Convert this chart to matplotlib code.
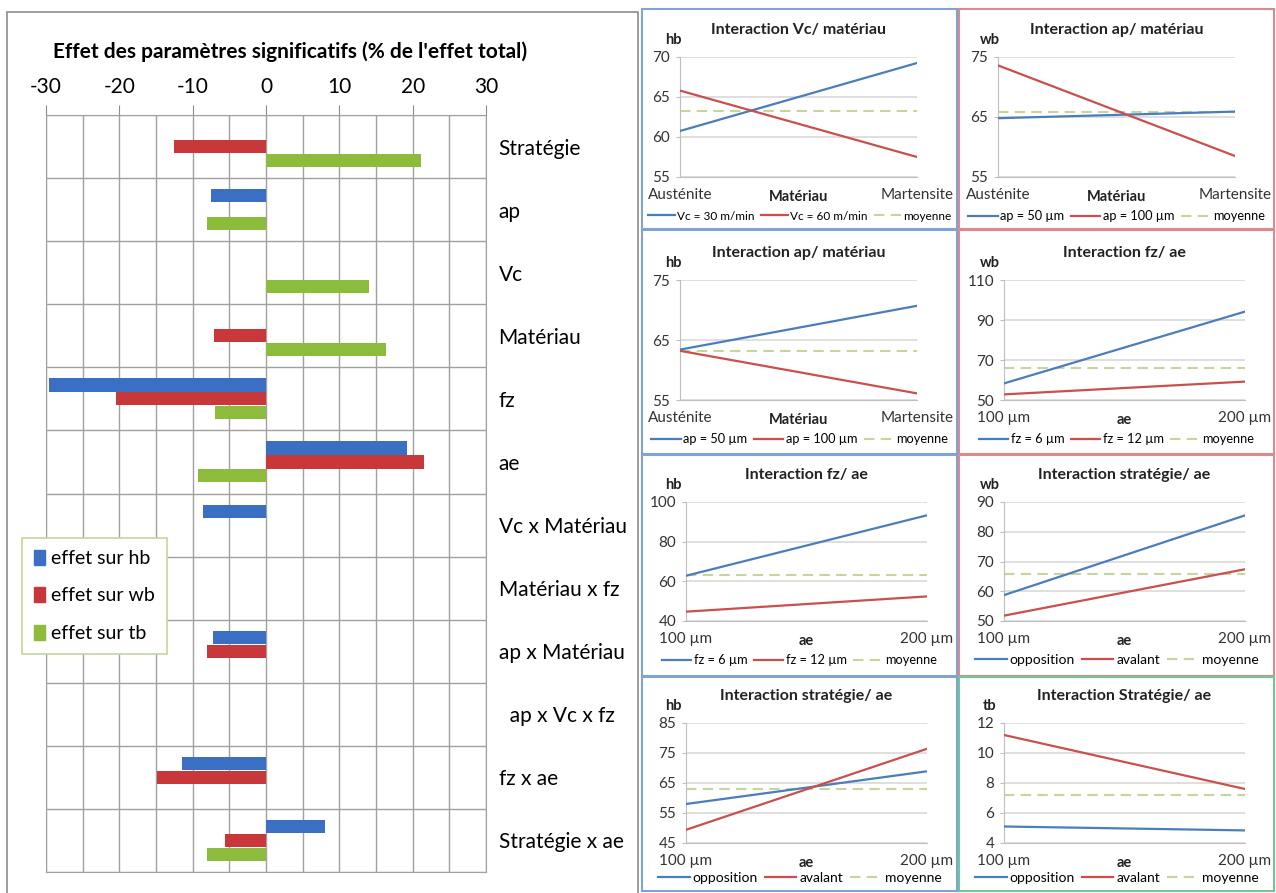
import matplotlib
matplotlib.use('Agg')
import matplotlib.pyplot as plt
from matplotlib.patches import Rectangle, Patch
import numpy as np

plt.rcParams['font.family'] = ['Lato', 'DejaVu Sans']
plt.rcParams['axes.unicode_minus'] = False

W, H = 1276, 893

# ---- bar chart (left) ----
params = ['Stratégie', 'ap', 'Vc', 'Matériau', 'fz', 'ae', 'Vc x Matériau',
          'Matériau x fz', 'ap x Matériau', '  ap x Vc x fz', 'fz x ae', 'Stratégie x ae']
effet_hb = [0, -7.5, 0, 0, -29.6, 19.2, -8.6, 0, -7.2, 0, -11.4, 8.1]
effet_wb = [-12.6, 0, 0, -7.1, -20.5, 21.6, 0, 0, -8.1, 0, -14.9, -5.6]
effet_tb = [21.2, -8.1, 14.1, 16.4, -7.0, -9.3, 0, 0, 0, 0, 0, -8.1]
x_ticks = [-30, -20, -10, 0, 10, 20, 30]
bar_labels = ['effet sur hb', 'effet sur wb', 'effet sur tb']

# ---- interaction panels (right) ----
titles = ['Interaction Vc/ matériau', 'Interaction ap/ matériau',
          'Interaction ap/ matériau', 'Interaction fz/ ae',
          'Interaction fz/ ae', 'Interaction stratégie/ ae',
          'Interaction stratégie/ ae', 'Interaction Stratégie/ ae']
responses = ['hb', 'wb', 'hb', 'wb', 'hb', 'wb', 'hb', 'tb']
factors = ['Matériau', 'Matériau', 'Matériau', 'ae', 'ae', 'ae', 'ae', 'ae']
levels_mat = ['Austénite', 'Martensite']
levels_ae = ['100 µm', '200 µm']
names_blue = ['Vc = 30 m/min', 'ap = 50 µm', 'ap = 50 µm', 'fz = 6 µm',
              'fz = 6 µm', 'opposition', 'opposition', 'opposition']
names_red = ['Vc = 60 m/min', 'ap = 100 µm', 'ap = 100 µm', 'fz = 12 µm',
             'fz = 12 µm', 'avalant', 'avalant', 'avalant']
blue_vals = [[60.75, 69.25], [64.8, 65.9], [63.4, 70.7], [58.3, 94.2],
             [62.8, 93.3], [58.7, 85.5], [58.0, 68.9], [5.1, 4.84]]
red_vals = [[65.8, 57.5], [73.6, 58.5], [63.2, 56.1], [52.8, 59.2],
            [44.7, 52.4], [51.8, 67.4], [49.4, 76.4], [11.2, 7.6]]
moyenne = [63.3, 65.8, 63.2, 66.2, 63.2, 65.8, 63.1, 7.2]
y_ticks = [[55, 60, 65, 70], [55, 65, 75], [55, 65, 75], [50, 70, 90, 110],
           [40, 60, 80, 100], [50, 60, 70, 80, 90], [45, 55, 65, 75, 85],
           [4, 6, 8, 10, 12]]

c_blue, c_red, c_green = '#3a6fc4', '#c8383a', '#8dbb3c'
l_blue, l_red, l_mean = '#4a7ebb', '#c9504d', '#c3d69b'

fig = plt.figure(figsize=(W / 100, H / 100), dpi=100)


def px_rect(x0, y0, x1, y1):
    return [x0 / W, 1 - y1 / H, (x1 - x0) / W, (y1 - y0) / H]


def frame(x0, y0, x1, y1, color, lw=1.5):
    fig.add_artist(Rectangle((x0 / W, 1 - y1 / H), (x1 - x0) / W, (y1 - y0) / H,
                             transform=fig.transFigure, fill=False,
                             ec=color, lw=lw))


# left chart
frame(7, 12, 638, 895, '#8c8c8c', 1.2)
ax = fig.add_axes(px_rect(46, 115, 486, 872))
y = np.arange(len(params))
ax.barh(y - 0.22, effet_hb, height=0.21, color=c_blue, label=bar_labels[0], zorder=3)
ax.barh(y, effet_wb, height=0.21, color=c_red, label=bar_labels[1], zorder=3)
ax.barh(y + 0.22, effet_tb, height=0.21, color=c_green, label=bar_labels[2], zorder=3)
ax.set_xlim(-30, 30)
ax.set_ylim(len(params) - 0.5, -0.5)
ax.xaxis.tick_top()
ax.set_xticks(x_ticks)
ax.set_xticklabels([str(v) for v in x_ticks])
ax.set_xticks(np.arange(-30, 31, 5), minor=True)
ax.tick_params(axis='x', which='major', length=7, color='#8c8c8c', pad=6,
               labelsize=15)
ax.tick_params(axis='x', which='minor', length=0)
ax.yaxis.tick_right()
ax.set_yticks(y)
ax.set_yticklabels(params)
ax.set_yticks(np.arange(-0.5, len(params), 1), minor=True)
ax.tick_params(axis='y', which='major', length=0, pad=9, labelsize=15)
ax.tick_params(axis='y', which='minor', length=0)
ax.grid(which='both', axis='x', color='#a0a0a0', lw=1)
ax.grid(which='minor', axis='y', color='#a0a0a0', lw=1)
for s in ax.spines.values():
    s.set_color('#a0a0a0')
fig.text(290 / W, 1 - 52 / H, "Effet des paramètres significatifs (% de l'effet total)",
         ha='center', va='center', fontsize=15, fontweight='bold')
handles = [Patch(color=c) for c in (c_blue, c_red, c_green)]
leg = fig.legend(handles, bar_labels, loc='upper left',
                 bbox_to_anchor=(22 / W, 1 - 538 / H), fontsize=14,
                 fancybox=False, framealpha=1, edgecolor='#c3d69b',
                 handlelength=0.6, handleheight=0.8, handletextpad=0.3,
                 labelspacing=1.05, borderpad=0.6, borderaxespad=0)
leg.get_frame().set_linewidth(1.2)

# right panels
col_x = [(642, 957), (959, 1274)]
row_y = [(9, 229), (230, 454), (455, 676), (677, 891)]
border_cols = [['#7fa3d4', '#d98b8b'], ['#7fa3d4', '#d98b8b'],
               ['#7fa3d4', '#d98b8b'], ['#7fa3d4', '#72c594']]
axes_px = [(680, 57, 917, 177), (998, 57, 1235, 177),
           (680, 280, 917, 400), (1004, 280, 1245, 400),
           (686, 502, 927, 621), (1004, 502, 1245, 621),
           (686, 723, 927, 843), (1004, 723, 1245, 843)]
legend_size = [8.5, 9.2, 9.2, 9.2, 9.2, 10, 10, 10]

for r in range(4):
    for c in range(2):
        frame(col_x[c][0], row_y[r][0], col_x[c][1], row_y[r][1], border_cols[r][c])

for i in range(8):
    x0, y0, x1, y1 = axes_px[i]
    h = y1 - y0
    w = x1 - x0
    a = fig.add_axes(px_rect(x0, y0, x1, y1))
    xs = [0, 1]
    a.plot(xs, blue_vals[i], color=l_blue, lw=1.6, label=names_blue[i], zorder=3)
    a.plot(xs, red_vals[i], color=l_red, lw=1.6, label=names_red[i], zorder=3)
    a.plot(xs, [moyenne[i], moyenne[i]], color=l_mean, lw=1.5, ls=(0, (5, 3)),
           label='moyenne', zorder=2)
    a.set_xlim(0, 1)
    a.set_ylim(y_ticks[i][0], y_ticks[i][-1])
    a.set_yticks(y_ticks[i])
    a.set_xticks(xs)
    a.set_xticklabels(levels_mat if factors[i] == 'Matériau' else levels_ae)
    a.tick_params(axis='x', length=0, pad=8, labelsize=11, colors='#333333')
    a.tick_params(axis='y', length=3, color='#bfbfbf', pad=4, labelsize=11,
                  labelcolor='#333333')
    a.grid(axis='y', color='#d9d9d9', lw=1.2)
    a.set_axisbelow(True)
    for s in ('top', 'right'):
        a.spines[s].set_visible(False)
    a.spines['left'].set_color('#bfbfbf')
    a.spines['bottom'].set_color('#bfbfbf')
    a.text(0.5, 1 + 27 / h, titles[i], transform=a.transAxes, ha='center',
           va='center', fontsize=11.5, fontweight='bold', color='#222222')
    col_left = col_x[0][0] if x0 < 950 else col_x[1][0]
    a.text((col_left + 31 - x0) / w, 1 + 17 / h, responses[i], transform=a.transAxes,
           ha='center', va='center', fontsize=10.5, fontweight='bold', color='#222222')
    a.text(0.5, -20 / h, factors[i], transform=a.transAxes, ha='center',
           va='center', fontsize=10.5, fontweight='bold', color='#222222')
    # centre the legend on the panel box rather than on the plot area
    c = 0 if x0 < 950 else 1
    panel_mid = (col_x[c][0] + col_x[c][1]) / 2
    a.legend(loc='center', bbox_to_anchor=((panel_mid - x0) / w, -(39 if i < 6 else 35) / h),
             ncol=3, frameon=False, fontsize=legend_size[i], handlelength=2.3,
             handletextpad=0.2, columnspacing=0.5, borderaxespad=0, borderpad=0)

fig.savefig('out.png', dpi=100)
